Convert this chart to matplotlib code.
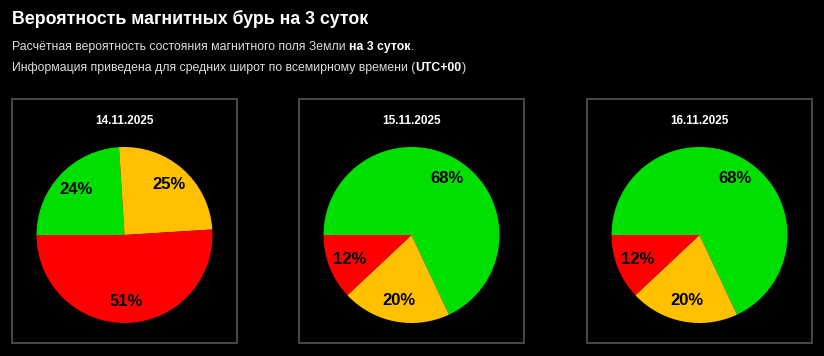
import matplotlib.pyplot as plt
from matplotlib.patches import Rectangle

plt.rcParams['font.family'] = ['Liberation Sans', 'DejaVu Sans']

# данные с картинки
dates = ['14.11.2025', '15.11.2025', '16.11.2025']
quiet = [24, 68, 68]     # зелёный
minor = [25, 20, 20]     # жёлтый
storm = [51, 12, 12]     # красный
colors = ['#00e000', '#ffc000', '#ff0000']

W, H = 824, 356
fig = plt.figure(figsize=(W / 100, H / 100), dpi=100, facecolor='black')


def fx(px):
    return px / W


def fy(py):
    return 1 - py / H


# заголовок
fig.text(fx(12), fy(24), 'Вероятность магнитных бурь на 3 суток', color='white',
         fontsize=12.8, fontweight='bold', va='baseline', ha='left')

# подзаголовок: строки собираем по кускам (часть текста жирная)
sub = '#dddddd'
lines = [
    ([('Расчётная вероятность состояния магнитного поля Земли ', False, sub),
      ('на 3 суток', True, 'white'), ('.', False, sub)], 50),
    ([('Информация приведена для средних широт по всемирному времени (', False, sub),
      ('UTC+00', True, 'white'), (')', False, sub)], 71),
]
r = fig.canvas.get_renderer()
for parts, y in lines:
    x = 12
    for txt, bold, col in parts:
        tx = fig.text(fx(x), fy(y), txt, color=col, fontsize=8.8,
                      fontweight='bold' if bold else 'normal', va='baseline', ha='left')
        x += tx.get_window_extent(renderer=r).width

# три круговые диаграммы
box_left = [12, 299, 587]
box_w, box_top, box_bot = 225, 99, 343
cy, rad = 235, 88

for i, d in enumerate(dates):
    x0 = box_left[i]
    fig.patches.append(Rectangle((fx(x0), fy(box_bot)), box_w / W, (box_bot - box_top) / H,
                                 transform=fig.transFigure, fill=False,
                                 edgecolor='#555555', lw=1.2))
    cx = x0 + box_w / 2
    fig.text(fx(cx), fy(121), d, color='white', fontsize=8.5, fontweight='bold',
             ha='center', va='center')
    ax = fig.add_axes([fx(cx - rad), fy(cy + rad), 2 * rad / W, 2 * rad / H])
    ax.pie([quiet[i], minor[i], storm[i]], colors=colors, startangle=180,
           counterclock=False, autopct='%.0f%%', pctdistance=0.76,
           wedgeprops={'linewidth': 0},
           textprops={'fontsize': 12, 'fontweight': 'bold', 'color': 'black'})
    ax.set_xlim(-1, 1)
    ax.set_ylim(-1, 1)
    ax.set_aspect('equal')
    ax.axis('off')

fig.savefig('out.png', dpi=100, facecolor='black')
